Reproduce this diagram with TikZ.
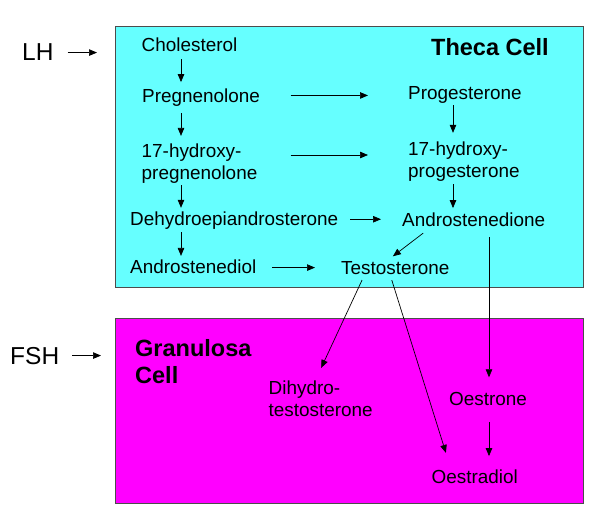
\documentclass[tikz,border=0pt]{standalone}
\usepackage{fontspec}
\setmainfont{Liberation Sans}
\usetikzlibrary{arrows.meta}
\definecolor{thecacyan}{RGB}{102,255,255}
\definecolor{granmagenta}{RGB}{255,0,255}
\tikzstyle{every node}=[inner sep=0pt,anchor=base west,font=\fontsize{18.9}{22.5}\selectfont]
\tikzstyle{cellbox}=[draw=black!70,line width=0.8pt,anchor=north west,minimum width=468pt]
\tikzstyle{hormone}=[font=\fontsize{24.5}{28}\selectfont]
\tikzstyle{cellname}=[align=left,font=\fontsize{23.5}{27}\selectfont\bfseries]
\tikzstyle{conv}=[-{Triangle[length=8pt,width=6.5pt]},line width=0.7pt]

\begin{document}
\begin{tikzpicture}[x=1pt,y=-1pt]
    \useasboundingbox (0,0) rectangle (600,524);
    \node[cellbox,fill=thecacyan,minimum height=261pt] (theca) at (115,26) {};
    \node[cellbox,fill=granmagenta,minimum height=185pt] (gran) at (115,318) {};
    \coordinate (colA) at (181,0);
    \coordinate (colB) at (453,0);
    \coordinate (colC) at (489,0);
    \coordinate (row2) at (0,155);

    % multi-line nodes sit on the baseline of their last line
    \node[hormone] (lh) at (22,61) {LH};
    \node[hormone] (fsh) at (10,364) {FSH};
    \node[cellname] (thecaname) at (431,56) {Theca Cell};
    \node[cellname] (granname) at (135,383) {Granulosa\\Cell};

    \node (chol) at (141.5,52) {Cholesterol};
    \node (preg) at (142,103) {Pregnenolone};
    \node (prog) at (408,100) {Progesterone};
    \node[align=left] (ohpreg) at (141.5,180) {17-hydroxy-\\pregnenolone};
    \node[align=left] (ohprog) at (408,178) {17-hydroxy-\\progesterone};
    \node (dhea) at (130,225.7) {Dehydroepiandrosterone};
    \node (andro) at (402,226) {Androstenedione};
    \node (androl) at (130,273) {Androstenediol};
    \node (testo) at (341,274) {Testosterone};
    \node[align=left] (dht) at (268.5,416.5) {Dihydro-\\testosterone};
    \node (oestrone) at (449,405.7) {Oestrone};
    \node (oestradiol) at (431.5,483) {Oestradiol};

    \draw[conv,shorten <=14pt,shorten >=18pt] (lh) -- (lh -| theca.west);
    \draw[conv,shorten <=13pt,shorten >=14pt] (fsh) -- (fsh -| gran.west);

    \draw[conv,shorten <=7pt,shorten >=7pt] (chol.south -| colA) -- (preg.north -| colA);
    \draw[conv,shorten <=6pt,shorten >=7.7pt] (preg.south -| colA) -- (ohpreg.north -| colA);
    \draw[conv,shorten <=1pt,shorten >=4pt] (ohpreg.south -| colA) -- (dhea.north -| colA);
    \draw[conv,shorten <=2.3pt,shorten >=3.2pt] (dhea.south -| colA) -- (androl.north -| colA);
    \draw[conv,shorten <=1pt,shorten >=8.8pt] (prog.south -| colB) -- (ohprog.north -| colB);
    \draw[conv,shorten <=2pt,shorten >=4pt] (ohprog.south -| colB) -- (andro.north -| colB);

    \draw[conv,shorten <=30.5pt,shorten >=40pt] (preg.east |- prog) -- (prog);
    \draw[conv,shorten <=33pt,shorten >=40pt] (ohpreg.east |- row2) -- (ohprog.west |- row2);
    \draw[conv,shorten <=12pt,shorten >=21pt] (dhea.east |- andro) -- (andro);
    \draw[conv,shorten <=16pt,shorten >=26pt] (androl.east |- testo) -- (testo);

    \draw[conv,shorten <=11pt,shorten >=7.4pt] ([xshift=30pt]andro.south west) -- ([xshift=46pt]testo.north west);
    \draw[conv,shorten <=10.7pt,shorten >=15pt] (andro.south -| colC) -- (oestrone.north -| colC);
    \draw[conv,shorten <=6.3pt,shorten >=13.5pt] ([xshift=23.7pt]testo.south west) -- ([xshift=47pt]dht.north west);
    \draw[conv,shorten <=6pt,shorten >=17pt] ([xshift=49pt]testo.south west) -- ([xshift=19.5pt]oestradiol.north west);
    \draw[conv,shorten <=16pt,shorten >=13pt] (oestrone.south -| colC) -- (oestradiol.north -| colC);
\end{tikzpicture}
\end{document}
